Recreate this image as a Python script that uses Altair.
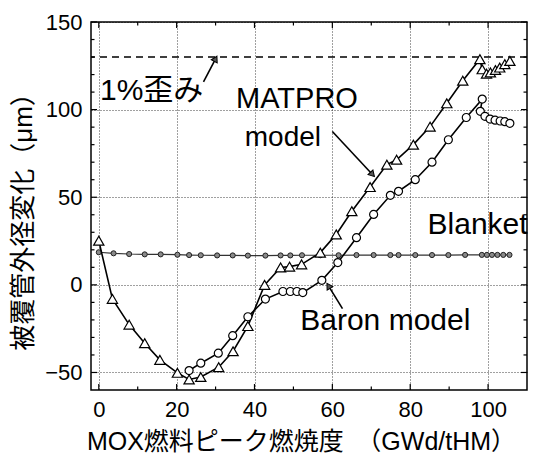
import math
import altair as alt
import pandas as pd

# ---------------- data ----------------
matpro_x = [0, 3.5, 7.8, 11.8, 15.7, 20.2, 23.2, 26.2, 30.8, 34.5, 38.3, 42.6, 46.7, 49.0,
            52.1, 56.9, 61.0, 65.0, 69.7, 74.0, 76.5, 80.8, 85.1, 89.4, 93.5, 97.9,
            98.5, 99.6, 100.6, 101.9, 103.0, 104.3, 105.6]
matpro_y = [25.2, -8, -22.7, -33.3, -42.8, -50.2, -54, -52.6, -47, -37.9, -23.5, 0, 9.9, 10.4,
            11.7, 18.4, 28.8, 42, 55.8, 68.6, 71.4, 80, 90.3, 103.6, 116.5, 128.8,
            123, 120.5, 121.2, 122.6, 124, 125.9, 127.8]

baron_x = [23.2, 26.2, 30.7, 34.4, 38.3, 42.8, 47.3, 49.2, 50.9, 52.4, 57.3, 61.4, 66.2,
           70.6, 74.9, 77.0, 81.3, 85.6, 89.8, 94.4, 98.5, 98.0, 99.2, 100.5, 101.8,
           103.1, 104.3, 105.6]
baron_y = [-48.9, -44.7, -39, -29, -18.2, -8.1, -3.8, -3.8, -3.8, -4.4, 2.6, 12.7, 26.9,
           40.2, 51.1, 53.4, 60, 70, 82.8, 95.5, 106, 99, 96.2, 94.6, 94, 93.5, 93.1, 92.2]

blanket_x = [0, 3.8, 7.8, 11.8, 15.9, 20.2, 23.2, 26.2, 30.4, 34.4, 38.3, 42.8, 46.7, 49.2,
             52.2, 56.9, 61.6, 66.2, 70.6, 74.9, 77.0, 81.3, 85.6, 89.8, 94.1, 98.4, 99.7,
             101.0, 102.4, 103.9, 105.5]
blanket_y = [18.6, 18.0, 17.6, 17.4, 17.4, 17.2, 17.0, 16.9, 16.8, 16.8, 16.7, 16.7, 16.8,
             16.8, 16.9, 16.9, 16.9, 17.0, 17.0, 17.0, 17.0, 17.0, 17.0, 17.0, 17.1, 17.1,
             17.1, 17.1, 17.1, 17.1, 17.1]

strain_level = [130]

x_domain = [-2, 110]
y_domain = [-60, 150]
x_labels = [0, 20, 40, 60, 80, 100]
y_labels = [-50, 0, 50, 100, 150]
x_minor = [10, 30, 50, 70, 90]
y_minor = [-40, -30, -20, -10, 10, 20, 30, 40, 60, 70, 80, 90, 110, 120, 130, 140]

# annotations: text, x, y
ann_strain = ["1%歪み", 0.3, 110.5]
ann_matpro = ["MATPRO", 50.9, 106]
ann_model = ["model", 47.3, 84]
ann_blanket = ["Blanket", 97.3, 34]
ann_baron = ["Baron model", 73.6, -20.5]

# arrows: id, x_from, y_from, x_to, y_to
arrows = [
    ["a1", 26.9, 115.9, 30.0, 129.0],
    ["a2", 60.0, 87.5, 70.3, 63.0],
    ["a3", 62.6, -13.6, 59.0, -0.6],
]

# ---------------- layout ----------------
W, H = 436, 368
FONT = "Liberation Sans, Arial, Helvetica, sans-serif"
JFONT = "Liberation Sans, Noto Sans CJK JP, sans-serif"
px_x = W / (x_domain[1] - x_domain[0])
px_y = H / (y_domain[1] - y_domain[0])

xs = alt.Scale(domain=x_domain, nice=False, zero=False)
ys = alt.Scale(domain=y_domain, nice=False, zero=False)


def series_df(xv, yv):
    return pd.DataFrame({"x": xv, "y": yv, "i": list(range(len(xv)))})


df_m = series_df(matpro_x, matpro_y)
df_b = series_df(baron_x, baron_y)
df_k = series_df(blanket_x, blanket_y)

X = alt.X("x:Q", scale=xs,
          axis=alt.Axis(values=x_labels, title="MOX燃料ピーク燃焼度　（GWd/tHM）",
                        grid=True, ticks=False, domain=False, labelFontSize=22,
                        labelFont=FONT, labelColor="black", labelPadding=9,
                        titleFont=JFONT, titleFontSize=25, titleFontWeight="normal",
                        titleColor="black", titlePadding=9, titleX=W / 2 - 8,
                        gridDash=[1, 2], gridColor="black", gridOpacity=0.75, gridWidth=1))
Y = alt.Y("y:Q", scale=ys,
          axis=alt.Axis(values=y_labels, title="被覆管外径変化（μm）",
                        grid=True, ticks=False, domain=False, labelFontSize=22,
                        labelFont=FONT, labelColor="black", labelPadding=9,
                        titleFont=JFONT, titleFontSize=26, titleFontWeight="normal",
                        titleColor="black", titlePadding=8, titleY=H / 2 + 9,
                        gridDash=[1, 2], gridColor="black", gridOpacity=0.75, gridWidth=1))

base_k = alt.Chart(df_k)
blanket_line = base_k.mark_line(color="#333", strokeWidth=1.2).encode(x=X, y=Y, order="i:Q")
blanket_pts = base_k.mark_point(shape="circle", filled=True, fill="#8a8a8a", stroke="#222",
                                strokeWidth=1, size=26, opacity=1).encode(x="x:Q", y="y:Q")

base_b = alt.Chart(df_b)
baron_line = base_b.mark_line(color="black", strokeWidth=1.6).encode(x="x:Q", y="y:Q", order="i:Q")
baron_pts = base_b.mark_point(shape="circle", filled=True, fill="white", stroke="black",
                              strokeWidth=1.2, size=64, opacity=1).encode(x="x:Q", y="y:Q")

base_m = alt.Chart(df_m)
matpro_line = base_m.mark_line(color="black", strokeWidth=1.6).encode(x="x:Q", y="y:Q", order="i:Q")
matpro_pts = base_m.mark_point(shape="triangle-up", filled=True, fill="white", stroke="black",
                               strokeWidth=1.2, size=105, opacity=1).encode(x="x:Q", y="y:Q")

strain_rule = alt.Chart(pd.DataFrame({"y": strain_level})).mark_rule(
    color="black", strokeWidth=1.5, strokeDash=[7, 5]).encode(y="y:Q")


# inside ticks
def tick_layer(vals, axis, side, length):
    d = pd.DataFrame({"v": vals})
    m = alt.Chart(d).mark_rule(color="black", strokeWidth=1.2)
    if axis == "y":
        if side == "left":
            return m.encode(y="v:Q", x=alt.value(0), x2=alt.value(length))
        return m.encode(y="v:Q", x=alt.value(W - length), x2=alt.value(W))
    if side == "bottom":
        return m.encode(x="v:Q", y=alt.value(H - length), y2=alt.value(H))
    return m.encode(x="v:Q", y=alt.value(0), y2=alt.value(length))


ticks = [
    tick_layer(y_labels, "y", "left", 6), tick_layer(y_minor, "y", "left", 3.5),
    tick_layer(y_labels, "y", "right", 6), tick_layer(y_minor, "y", "right", 3.5),
    tick_layer(x_labels, "x", "bottom", 6), tick_layer(x_minor, "x", "bottom", 3.5),
    tick_layer(x_labels, "x", "top", 6), tick_layer(x_minor, "x", "top", 3.5),
]


def text_layer(a, size, align, font=FONT):
    d = pd.DataFrame({"t": [a[0]], "x": [a[1]], "y": [a[2]]})
    return alt.Chart(d).mark_text(font=font, fontSize=size, align=align, baseline="middle",
                                  color="black").encode(x="x:Q", y="y:Q", text="t:N")


texts = [
    text_layer(ann_strain, 30, "left", JFONT),
    text_layer(ann_matpro, 29, "center"),
    text_layer(ann_model, 28, "center"),
    text_layer(ann_blanket, 30, "center"),
    text_layer(ann_baron, 30, "center"),
]

# arrows
rows, heads = [], []
for aid, x0, y0, x1, y1 in arrows:
    rows.append({"id": aid, "x": x0, "y": y0, "o": 0})
    rows.append({"id": aid, "x": x1, "y": y1, "o": 1})
    dxp = (x1 - x0) * px_x
    dyp = -(y1 - y0) * px_y
    ang = math.degrees(math.atan2(dxp, -dyp)) % 360
    heads.append({"x": x1, "y": y1, "ang": ang})
arrow_lines = alt.Chart(pd.DataFrame(rows)).mark_line(color="black", strokeWidth=1.6).encode(
    x="x:Q", y="y:Q", detail="id:N", order="o:Q")
arrow_heads = alt.Chart(pd.DataFrame(heads)).mark_point(
    shape="triangle-up", filled=True, color="#555", stroke="black", strokeWidth=1,
    size=45, opacity=1).encode(x="x:Q", y="y:Q", angle=alt.Angle("ang:Q", scale=None))

chart = alt.layer(
    blanket_line, strain_rule, blanket_pts,
    baron_line, matpro_line, baron_pts, matpro_pts,
    *ticks, *texts, arrow_lines, arrow_heads,
).properties(
    width=W, height=H,
    autosize=alt.AutoSizeParams(type="none"),
    padding={"left": 83, "top": 14, "right": 2, "bottom": 72},
    background="white",
).configure_view(stroke="black", strokeWidth=1.5)

chart.save("out.html", embed_options={"renderer": "svg", "actions": False})
